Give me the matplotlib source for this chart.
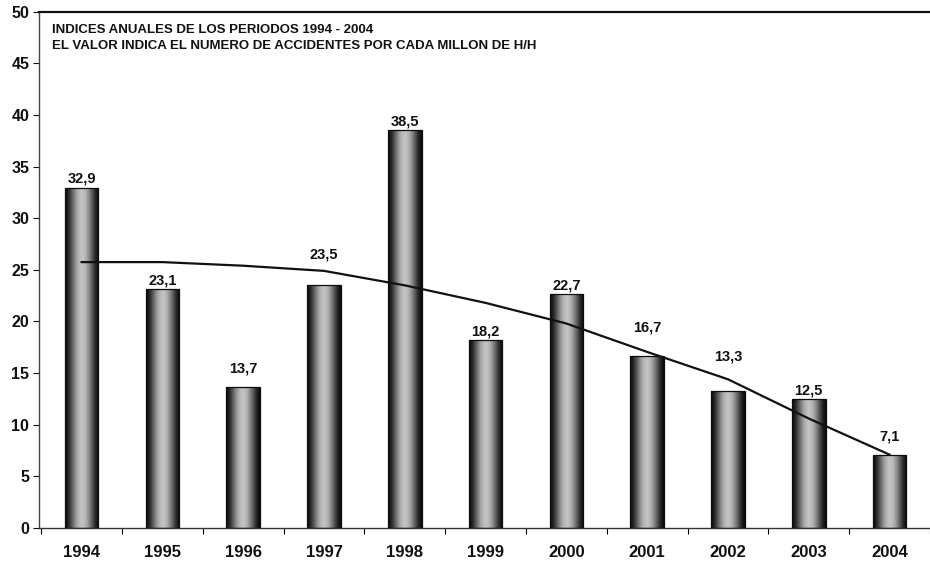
import numpy as np
import matplotlib
matplotlib.use("Agg")
import matplotlib.pyplot as plt

# Annual accident indices (accidents per million man-hours)
years = ["1994", "1995", "1996", "1997", "1998", "1999", "2000", "2001", "2002", "2003", "2004"]
indices = [32.9, 23.1, 13.7, 23.5, 38.5, 18.2, 22.7, 16.7, 13.3, 12.5, 7.1]
# Smoothed trend line, one value per year
trend = [25.75, 25.75, 25.4, 24.9, 23.5, 21.8, 19.8, 17.05, 14.4, 10.6, 7.1]

# Vertical offset (pixels) of each value label above its bar
label_offsets_px = [10, 9, 18, 31, 9, 9, 8, 28, 34, 8, 18]

plt.rcParams["font.family"] = ["Liberation Sans", "DejaVu Sans"]

W, H = 930, 567
fig = plt.figure(figsize=(W / 100, H / 100), dpi=100)
ax = fig.add_axes([39 / W, 39 / H, (W - 39) / W, (528 - 11.7) / H])

x = np.arange(len(years))
bar_w = 0.415
bars = ax.bar(x, indices, width=bar_w, facecolor="none",
              edgecolor="#0d0d0d", linewidth=0.9, zorder=3)

# Cylindrical shading: dark edges, soft grey centre
u = np.linspace(0, 1, 128)
shade = 0.05 + 0.71 * np.sin(np.pi * u) ** 1.6
grad = np.tile(shade, (8, 1))
for xi, v, patch in zip(x, indices, bars.patches):
    im = ax.imshow(grad, extent=(xi - bar_w / 2, xi + bar_w / 2, 0, v),
                   cmap="gray", vmin=0, vmax=1, aspect="auto",
                   interpolation="bicubic", zorder=2)
    im.set_clip_path(patch)

ax.plot(x, trend, color="#111111", linewidth=1.6, zorder=4)

for xi, v, off in zip(x, indices, label_offsets_px):
    ax.annotate(f"{v:.1f}".replace(".", ","), (xi, v), xytext=(0, off),
                textcoords="offset pixels", ha="center", va="center",
                fontsize=10.5, fontweight="bold", color="#111111", zorder=5)

ax.set_ylim(0, 50)
ax.set_xlim(-0.528, (W - 82) / 81.5)
ax.set_yticks(np.arange(0, 51, 5))
ax.tick_params(axis="y", length=4, width=0.8, direction="out",
               labelsize=11.5, pad=3, colors="#111111")
for lbl in ax.get_yticklabels():
    lbl.set_fontweight("bold")

ax.set_xticks(x)
ax.set_xticklabels(years, fontsize=12, fontweight="bold", color="#111111")
ax.tick_params(axis="x", which="major", length=0, pad=12)
ax.set_xticks(np.arange(-0.5, len(years), 1), minor=True)
ax.tick_params(axis="x", which="minor", length=4, width=0.8, direction="out")

ax.spines["right"].set_visible(False)
ax.spines["top"].set_linewidth(1.6)
ax.spines["top"].set_color("#111111")
ax.spines["left"].set_linewidth(1.0)
ax.spines["left"].set_color("#444444")
ax.spines["bottom"].set_linewidth(1.0)
ax.spines["bottom"].set_color("#333333")

fig.text(52 / W, 1 - 30 / H, "INDICES ANUALES DE LOS PERIODOS 1994 - 2004",
         fontsize=9.5, fontweight="bold", va="center", ha="left", color="#111111")
fig.text(52 / W, 1 - 46 / H,
         "EL VALOR INDICA EL NUMERO DE ACCIDENTES POR CADA MILLON DE H/H",
         fontsize=9.5, fontweight="bold", va="center", ha="left", color="#111111")

fig.savefig("out.png", dpi=100, facecolor="white")
